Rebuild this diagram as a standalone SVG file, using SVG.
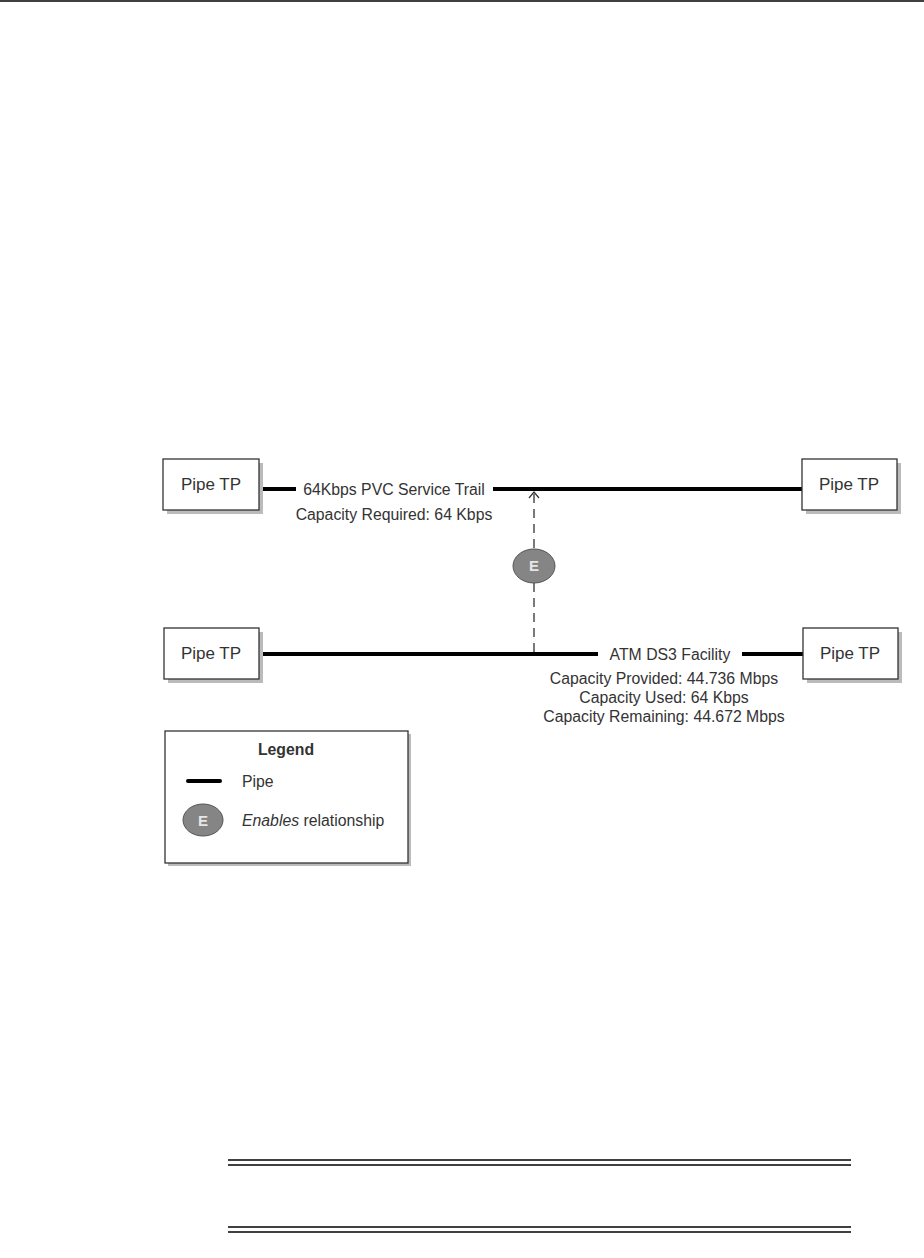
<svg xmlns="http://www.w3.org/2000/svg" width="924" height="1258" viewBox="0 0 924 1258">
<style>
text{font-family:"Liberation Sans",Arial,sans-serif;font-size:15.8px;fill:#333}
.tp{font-size:17px}
.box{fill:#fff;stroke:#333;stroke-width:1.3}
.shadow{fill:#bbb}
.pipe{stroke:#000;stroke-width:4;fill:none}
.dash{stroke:#333;stroke-width:1.3;stroke-dasharray:9,6;fill:none}
.ell{fill:#858585;stroke:#555;stroke-width:1}
.etext{fill:#e6e6e6;font-size:15px;font-weight:bold}
.rule{stroke:#000;stroke-width:1.5}
</style>
<defs>
<marker id="open" markerWidth="14" markerHeight="14" refX="11" refY="6" orient="auto" markerUnits="userSpaceOnUse">
<path d="M5,1 L11,6 L5,11" fill="none" stroke="#333" stroke-width="1.2"/>
</marker>
</defs>
<line class="rule" x1="0" y1="1" x2="924" y2="1"/>
<g id="connectors">
<line class="pipe" x1="261" y1="489" x2="296" y2="489"/>
<line class="pipe" x1="493" y1="489" x2="804" y2="489"/>
<line class="pipe" x1="260" y1="654" x2="598" y2="654"/>
<line class="pipe" x1="742" y1="654" x2="804" y2="654"/>
<line class="dash" x1="534" y1="652" x2="534" y2="583"/>
<line class="dash" x1="534" y1="548" x2="534" y2="492" marker-end="url(#open)"/>
</g>
<g id="trail-label">
<text x="394" y="495" text-anchor="middle">64Kbps PVC Service Trail</text>
<text x="394" y="520" text-anchor="middle">Capacity Required: 64 Kbps</text>
</g>
<g id="facility-label">
<text x="670" y="660" text-anchor="middle">ATM DS3 Facility</text>
<text x="664" y="684" text-anchor="middle">Capacity Provided: 44.736 Mbps</text>
<text x="664" y="703" text-anchor="middle">Capacity Used: 64 Kbps</text>
<text x="664" y="722" text-anchor="middle">Capacity Remaining: 44.672 Mbps</text>
</g>
<g id="enables">
<ellipse class="ell" cx="534" cy="566" rx="21" ry="17"/>
<text class="etext" x="534" y="571" text-anchor="middle">E</text>
</g>
<g id="tp-top-left">
<rect class="shadow" x="167" y="463" width="96" height="51"/>
<rect class="box" x="163" y="459" width="96" height="51"/>
<text class="tp" x="211" y="490" text-anchor="middle">Pipe TP</text>
</g>
<g id="tp-top-right">
<rect class="shadow" x="806" y="463" width="95" height="51"/>
<rect class="box" x="802" y="459" width="95" height="51"/>
<text class="tp" x="849" y="490" text-anchor="middle">Pipe TP</text>
</g>
<g id="tp-bottom-left">
<rect class="shadow" x="168" y="632" width="95" height="51"/>
<rect class="box" x="164" y="628" width="95" height="51"/>
<text class="tp" x="211" y="659" text-anchor="middle">Pipe TP</text>
</g>
<g id="tp-bottom-right">
<rect class="shadow" x="807" y="632" width="95" height="51"/>
<rect class="box" x="803" y="628" width="95" height="51"/>
<text class="tp" x="850" y="659" text-anchor="middle">Pipe TP</text>
</g>
<g id="legend">
<rect class="shadow" x="168" y="734" width="243" height="132"/>
<rect class="box" x="165" y="731" width="243" height="132"/>
<text x="286" y="755" text-anchor="middle" font-weight="bold">Legend</text>
<line x1="188" y1="781" x2="220" y2="781" stroke="#000" stroke-width="4" stroke-linecap="round"/>
<text x="242" y="787">Pipe</text>
<ellipse class="ell" cx="203" cy="820" rx="20" ry="16"/>
<text class="etext" x="203" y="826" text-anchor="middle">E</text>
<text x="242" y="826"><tspan font-style="italic">Enables</tspan> relationship</text>
</g>
<line class="rule" x1="228" y1="1160" x2="851" y2="1160"/>
<line class="rule" x1="228" y1="1165" x2="851" y2="1165"/>
<line class="rule" x1="228" y1="1227" x2="851" y2="1227"/>
<line class="rule" x1="228" y1="1232" x2="851" y2="1232"/>
</svg>
